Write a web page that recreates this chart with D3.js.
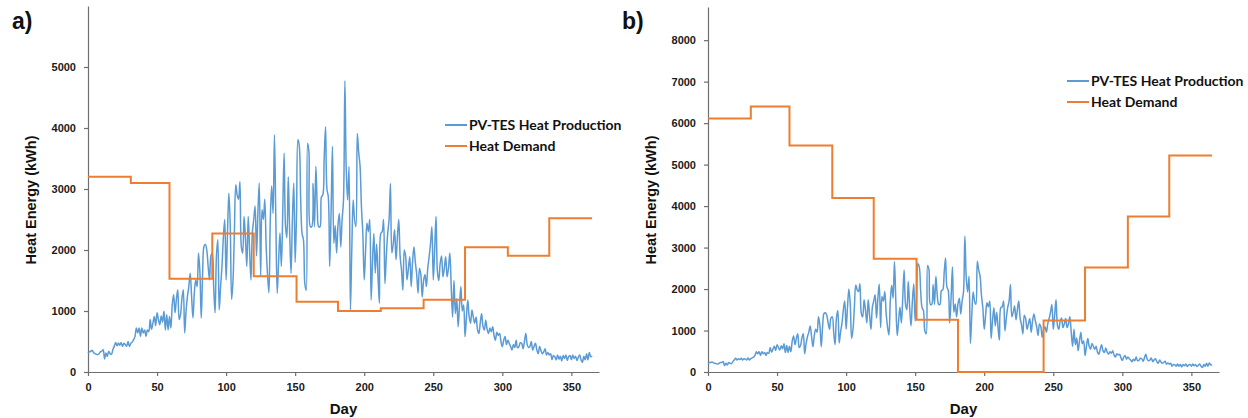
<!DOCTYPE html>
<html><head><meta charset="utf-8">
<script src="https://cdn.jsdelivr.net/npm/d3@7"></script>
<style>body{margin:0;background:#fff}svg{display:block}</style>
</head><body>
<svg id="chart" width="1248" height="418"></svg>
<script>
// ---------- DATA ----------
// Daily PV-TES heat production (kWh), day 0..365, panel a
const prodA = [
310,330,340,355,320,300,290,285,300,330,
340,365,215,310,255,340,300,290,365,420,
485,430,475,440,485,420,470,450,420,500,
420,470,490,530,580,720,640,720,585,720,
640,690,585,690,660,860,700,800,910,760,
970,860,775,920,820,995,690,940,690,910,
720,1100,1270,970,1190,1350,860,940,1200,1350,
640,1000,1240,1400,1620,1240,885,1300,1510,1400,
1950,1650,885,1620,2060,2090,2000,1730,1510,1900,
1950,1400,970,1900,2170,1020,1400,1730,2200,2500,
1510,2280,2930,2400,1190,1500,2300,3070,2900,2830,
3120,2060,1950,2550,2200,1730,2550,2000,1510,2280,
2500,2720,1900,2600,3100,1570,2660,2500,2830,2060,
1600,1300,2500,3050,2600,3890,2500,1290,1800,2280,
1730,2600,3590,2400,2200,3200,2300,1620,2500,3100,
1800,2600,3810,3700,2830,2270,2170,1450,1340,3750,
3600,2380,2380,3090,2380,3370,2700,2380,2380,2870,
2900,3500,4020,3000,2870,1730,2600,3700,2110,2400,
1950,2400,2600,2050,2500,2820,4775,3300,2820,3370,
1016,2000,2820,2500,2380,3910,3600,3370,2700,2270,
1510,2000,2440,2300,2500,1180,1800,2270,1620,2100,
1560,1130,2270,2300,2500,1450,1900,2270,2500,3090,
1950,2100,2330,1840,2200,2500,1900,1670,1340,2000,
1890,1510,1700,1890,1400,1800,2050,1800,1600,1290,
1700,1600,1230,1500,1600,1400,1700,1890,2100,2380,
1510,2000,2550,1650,1500,1780,1900,1560,1700,1890,
1560,1700,1950,1400,900,1500,960,1200,740,1100,
1400,1000,1100,580,900,1180,900,800,1015,900,
800,900,700,630,800,960,750,690,850,700,
630,720,660,740,600,520,650,600,630,500,
415,520,580,450,520,470,420,360,450,400,
520,400,415,480,470,380,500,630,450,400,
420,500,360,420,470,360,300,420,350,300,
330,380,280,320,280,300,200,270,250,200,
280,210,260,180,270,220,280,190,250,270,
200,280,220,260,190,240,280,200,160,260,
200,300,200,320,250,260
];
// Daily PV-TES heat production (kWh), day 0..365, panel b
const prodB = [
210,230,230,240,220,210,200,190,210,230,
230,250,150,210,170,230,210,200,250,290,
330,290,320,300,330,290,320,310,290,340,
290,320,340,360,400,490,440,490,400,490,
440,470,400,470,450,590,480,550,620,520,
660,590,530,630,560,680,470,640,470,620,
490,750,870,660,810,920,590,640,820,920,
440,680,850,960,1110,850,610,890,1030,960,
1330,1130,610,1110,1410,1430,1370,1180,1030,1300,
1330,960,660,1300,1480,700,960,1180,1500,1710,
1030,1560,2000,1640,810,1030,1570,2100,1980,1940,
2130,1410,1330,1740,1500,1180,1740,1370,1030,1560,
1710,1860,1300,1780,2120,1070,1820,1710,1940,1410,
1090,890,1710,2090,1780,2660,1710,880,1230,1560,
1180,1780,2460,1640,1500,2190,1570,1110,1710,2120,
1230,1780,2610,2530,1940,1550,1480,990,920,2570,
2460,1630,1630,2110,1630,2310,1850,1630,1630,1960,
1980,2390,2750,2050,1960,1180,1780,2530,1440,1640,
1330,1640,1780,1400,1710,1930,3270,2260,1930,2310,
690,1370,1930,1710,1630,2670,2460,2310,1850,1550,
1030,1370,1670,1570,1710,810,1230,1550,1110,1440,
1070,770,1550,1570,1710,990,1300,1550,1710,2110,
1330,1440,1590,1260,1500,1710,1300,1140,920,1370,
1290,1030,1160,1290,960,1230,1400,1230,1090,880,
1160,1090,840,1030,1090,960,1160,1290,1440,1630,
1030,1370,1740,1130,1030,1220,1300,1070,1160,1290,
1070,1160,1330,960,620,1030,660,820,510,750,
960,680,750,400,620,810,620,550,690,620,
550,620,480,430,550,660,510,470,580,480,
430,490,450,510,410,360,440,410,430,340,
280,360,400,310,360,320,290,250,310,270,
360,270,280,330,320,260,340,430,310,270,
290,340,250,290,320,250,210,290,240,210,
230,260,190,220,190,210,140,180,170,140,
190,140,180,120,180,150,190,130,170,180,
140,190,150,180,130,160,190,140,110,180,
140,210,140,220,170,180
];
// Monthly heat demand (kWh per day), step starts at these days
const monthStart = [0,31,59,90,120,151,181,212,243,273,304,334,365];
const demandA = [3200,3100,1530,2270,1570,1150,1000,1045,1185,2045,1905,2520,2520];
const demandB = [6110,6400,5460,4195,2730,1260,0,0,1240,2520,3750,5220,5220];
const xTicks = [0,50,100,150,200,250,300,350];
const yTicksA = [0,1000,2000,3000,4000,5000];
const yTicksB = [0,1000,2000,3000,4000,5000,6000,7000,8000];
const seriesNames = ["PV-TES Heat Production","Heat Demand"];
const panelLabels = ["a)","b)"];
const xTitle = "Day";
const yTitle = "Heat Energy (kWh)";

// ---------- LAYOUT ----------
const colors = ["#5B9BD5","#ED7D31"];
const panels = [
  {label: panelLabels[0], prod: prodA, demand: demandA, yMax: 6000, yTop: 6, yTicks: yTicksA,
   x0: 88, x1: 599, labelX: 12, titleX: 31, legX: 445, legY: 125},
  {label: panelLabels[1], prod: prodB, demand: demandB, yMax: 8800, yTop: 7, yTicks: yTicksB,
   x0: 708, x1: 1219, labelX: 622, titleX: 651, legX: 1067, legY: 81}
];
const yBottom = 372;
const svg = d3.select("#chart");
const fmt = d3.format("d");

panels.forEach(p => {
  const x = d3.scaleLinear().domain([0, 370]).range([p.x0, p.x1]);
  const y = d3.scaleLinear().domain([0, p.yMax]).range([yBottom, p.yTop]);
  const g = svg.append("g");

  // axes
  const ax = g.append("g").attr("transform", `translate(0,${yBottom})`)
    .call(d3.axisBottom(x).tickValues(xTicks).tickFormat(fmt).tickSize(4).tickSizeOuter(0).tickPadding(7));
  const ay = g.append("g").attr("transform", `translate(${p.x0},0)`)
    .call(d3.axisLeft(y).tickValues(p.yTicks).tickFormat(fmt).tickSize(4).tickSizeOuter(0).tickPadding(8));
  [ax, ay].forEach(a => {
    a.selectAll("path,line").attr("stroke", "#6e6e6e").attr("stroke-width", 1.2);
    a.selectAll("text").attr("fill", "#1a1a1a")
      .style("font-family", "'Liberation Sans', Arial, sans-serif")
      .style("font-weight", "bold").style("font-size", "11px");
  });

  // production line (smoothed, as in the original)
  const lineP = d3.line().x((d, i) => x(i)).y(d => y(d)).curve(d3.curveCatmullRom.alpha(0.5));
  g.append("path").datum(p.prod).attr("d", lineP)
    .attr("fill", "none").attr("stroke", colors[0]).attr("stroke-width", 1.5)
    .attr("stroke-linejoin", "round");

  // demand step line
  const lineD = d3.line().x((d, i) => x(monthStart[i])).y(d => y(d)).curve(d3.curveStepAfter);
  g.append("path").datum(p.demand).attr("d", lineD)
    .attr("fill", "none").attr("stroke", colors[1]).attr("stroke-width", 2);

  // panel label
  g.append("text").attr("x", p.labelX).attr("y", 29).text(p.label)
    .style("font-family", "'Liberation Sans', Arial, sans-serif")
    .style("font-weight", "bold").style("font-size", "23px").attr("fill", "#111");

  // axis titles
  g.append("text").attr("x", (p.x0 + p.x1) / 2).attr("y", 414).attr("text-anchor", "middle")
    .text(xTitle)
    .style("font-family", "'Liberation Sans', Arial, sans-serif")
    .style("font-weight", "bold").style("font-size", "15px").attr("fill", "#111");
  g.append("text").attr("transform", `translate(${p.titleX},200) rotate(-90)`)
    .attr("text-anchor", "middle").attr("dy", "0.35em").text(yTitle)
    .style("font-family", "'Liberation Sans', Arial, sans-serif")
    .style("font-weight", "bold").style("font-size", "14.5px").attr("fill", "#111");

  // legend
  seriesNames.forEach((name, i) => {
    const ly = p.legY + i * 21;
    g.append("line").attr("x1", p.legX).attr("x2", p.legX + 22).attr("y1", ly).attr("y2", ly)
      .attr("stroke", colors[i]).attr("stroke-width", 2);
    g.append("text").attr("x", p.legX + 24).attr("y", ly).attr("dy", "0.35em").text(name)
      .style("font-family", "Lato, 'Open Sans', sans-serif")
      .style("font-weight", "bold").style("font-size", "14px").attr("fill", "#111");
  });
});
</script>
</body></html>
